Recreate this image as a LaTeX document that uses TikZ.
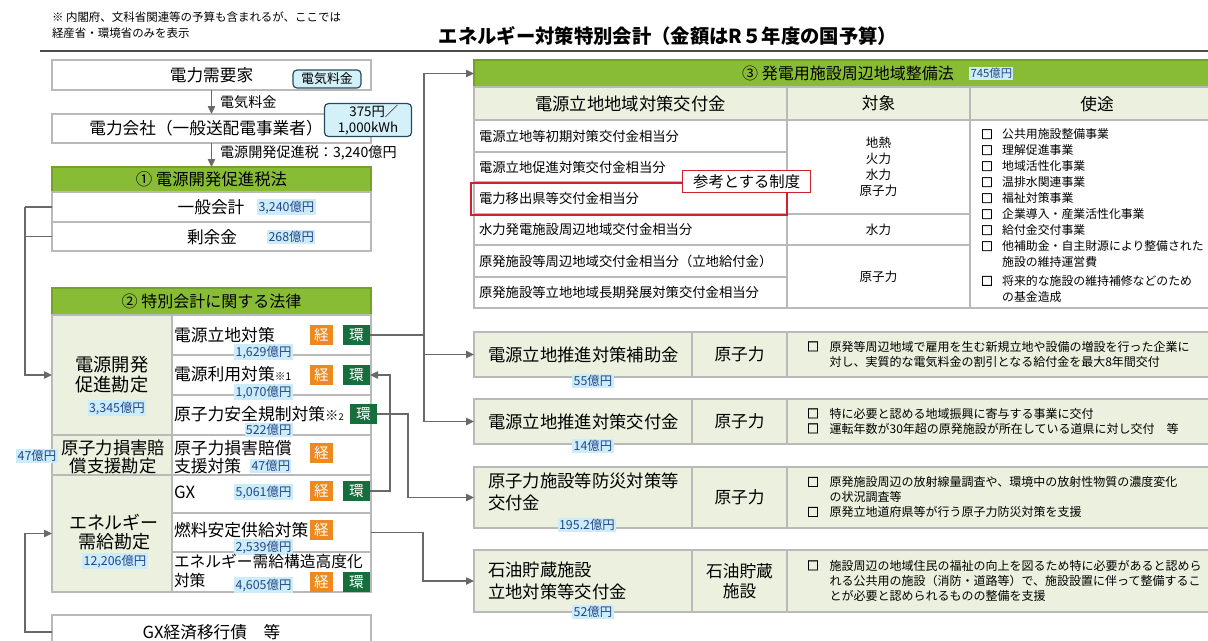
\documentclass[tikz,border=0pt]{standalone}
\usepackage{fontspec}
\setmainfont{Noto Sans CJK JP}
\newfontfamily\bulfont{Noto Sans CJK JP}[FakeBold=3]
\usetikzlibrary{arrows.meta}
\definecolor{hdrc}{RGB}{136,188,52}
\definecolor{lgreen}{RGB}{235,241,222}
\definecolor{keic}{RGB}{237,137,30}
\definecolor{kanc}{RGB}{22,110,60}
\definecolor{amtbg}{RGB}{204,236,250}
\definecolor{amtfg}{RGB}{35,70,135}
\definecolor{bordc}{RGB}{185,185,185}
\definecolor{connc}{RGB}{105,105,105}
\definecolor{refred}{RGB}{205,35,45}
\definecolor{pillbg}{RGB}{212,241,249}
\definecolor{pillbd}{RGB}{35,75,95}
\newcommand\fs[2]{\fontsize{#1}{#2}\selectfont}
\newcommand\bul{{\bulfont □}}
\begin{document}
\begin{tikzpicture}[x=0.75pt,y=-0.75pt,
 cell/.style={draw=bordc, line width=0.8pt, inner sep=0pt, outer sep=0pt, anchor=north west},
 sz/.style 2 args={minimum width=#1*0.75pt, minimum height=#2*0.75pt},
 hdr/.style={cell, fill=hdrc, draw=hdrc!85!black},
 t/.style={inner sep=0pt, outer sep=0pt},
 amt/.style={fill=amtbg, text=amtfg, inner sep=1pt, font=\fs{9.3}{10}},
 tagbox/.style={inner sep=0pt, outer sep=0pt, anchor=north west, text=white, font=\fs{11}{12}, minimum height=20*0.75pt},
 kei/.style={tagbox, fill=keic, minimum width=23*0.75pt},
 kan/.style={tagbox, fill=kanc, minimum width=27*0.75pt},
 pill/.style={draw=pillbd, fill=pillbg, rounded corners=3pt, line width=0.9pt, inner sep=0pt},
 conn/.style={draw=connc, line width=1pt},
 arr/.style={conn, -{Triangle[length=6pt,width=5.5pt]}},
 rowtxt/.style={t, anchor=west, font=\fs{10}{12}},
 lefttxt/.style={t, anchor=west, font=\fs{12.6}{14}},
 bigtxt/.style={t, anchor=west, align=left, font=\fs{13}{17}},
 usetxt/.style={t, anchor=west, font=\fs{9}{11.25}},
]
\useasboundingbox (0,0) rectangle (1208,640);

% ---------- top ----------
\node[t, anchor=west, align=left, font=\fs{8.6}{12}] (note) at (52,25) {※ 内閣府、文科省関連等の予算も含まれるが、ここでは\\経産省・環境省のみを表示};
\node[t, font=\bfseries\fs{14.5}{16}] (title) at (668,36) {エネルギー対策特別会計（金額はR５年度の国予算）};
\draw[black!70, line width=0.8pt] (40,51) -- (1208,51);

% ---------- left top ----------
\node[cell, sz={319}{30}, font=\fs{12.5}{14}] (demand) at (52,60) {電力需要家};
\node[pill, font=\fs{9.7}{11}, minimum width=68*0.75pt, minimum height=18*0.75pt] (feepill) at (327,79) {電気料金};
\node[cell, sz={319}{29}] (company) at (52,114) {};
\node[t, font=\fs{12.5}{14}] (companyt) at (206,128) {電力会社（一般送配電事業者）};
\node[pill, align=right, font=\fs{10}{12}, minimum width=87*0.75pt, minimum height=33*0.75pt] (ratepill) at (368,120) {375円／\\1,000kWh};
\node[hdr, sz={319}{25}, font=\fs{12.3}{14}] (hdr1) at (52,167) {① 電源開発促進税法};
\draw[arr] (demand) -- (company);
\node[t, anchor=west, font=\fs{10.6}{12}] (feelbl) at (220,102) {電気料金};
\draw[arr] (company) -- (hdr1);
\node[t, anchor=west, font=\fs{10.6}{12}] (taxlbl) at (220,153) {電源開発促進税：3,240億円};

\node[cell, sz={319}{30}] (ippan) at (52,192) {};
\node[t, font=\fs{12.5}{14}] (ippant) at (211,207) {一般会計};
\node[amt, anchor=west] (ippanamt) at (257,207) {3,240億円};
\node[cell, sz={319}{29}] (jyoyo) at (52,222) {};
\node[t, font=\fs{12.5}{14}] (jyoyot) at (212,237) {剰余金};
\node[amt, anchor=west] (jyoyoamt) at (267,237) {268億円};

% ---------- section 2 ----------
\node[hdr, sz={319}{27}, font=\fs{12}{14}] (hdr2) at (52,288) {② 特別会計に関する法律};
\node[cell, fill=lgreen, sz={120}{120}] (kanjo1) at (52,315) {};
\node[cell, fill=lgreen, sz={120}{40}] (kanjo2) at (52,435) {};
\node[cell, fill=lgreen, sz={120}{117}] (kanjo3) at (52,475) {};
\node[t, align=center, font=\fs{13.7}{15}] (kanjo1t) at (112,375) {電源開発\\促進勘定};
\node[amt] (kanjo1amt) at (117,408) {3,345億円};
\node[t, align=center, font=\fs{13}{13.5}] (kanjo2t) at (113,457) {原子力損害賠\\償支援勘定};
\node[amt] (kanjo2amt) at (37,456) {47億円};
\node[t, align=center, font=\fs{13.5}{14.3}] (kanjo3t) at (114,532) {エネルギー\\需給勘定};
\node[amt] (kanjo3amt) at (115,561) {12,206億円};

\node[cell, sz={199}{40}] (r1) at (172,315) {};
\node[cell, sz={199}{40}] (r2) at (172,355) {};
\node[cell, sz={199}{40}] (r3) at (172,395) {};
\node[cell, sz={199}{40}] (r4) at (172,435) {};
\node[cell, sz={199}{38}] (r5) at (172,475) {};
\node[cell, sz={199}{39}] (r6) at (172,513) {};
\node[cell, sz={199}{40}] (r7) at (172,552) {};

\node[lefttxt] (r1t) at (174,335) {電源立地対策};
\node[amt, anchor=east] (r1amt) at (293,352) {1,629億円};
\node[kei] (kei1) at (310,325) {経};
\node[kan] (kan1) at (343,325) {環};

\node[lefttxt] (r2t) at (174,374) {電源利用対策{\fs{8}{9}※1}};
\node[amt, anchor=east] (r2amt) at (293,392) {1,070億円};
\node[kei] (kei2) at (310,365) {経};
\node[kan] (kan2) at (343,365) {環};

\node[lefttxt] (r3t) at (174,414) {原子力安全規制対策{\fs{10}{11}※}{\fs{7}{8}2}};
\node[kan] (kan3) at (350,404) {環};
\node[amt, anchor=east] (r3amt) at (293,430) {522億円};

\node[lefttxt, align=left, font=\fs{12.6}{13.5}] (r4t) at (174,457) {原子力損害賠償\\支援対策};
\node[amt, anchor=west] (r4amt) at (250,466) {47億円};
\node[kei] (kei4) at (310,443) {経};

\node[lefttxt] (r5t) at (174,492) {GX};
\node[amt, anchor=east] (r5amt) at (293,492) {5,061億円};
\node[kei] (kei5) at (310,481) {経};
\node[kan] (kan5) at (343,481) {環};

\node[lefttxt] (r6t) at (174,530) {燃料安定供給対策};
\node[kei] (kei6) at (310,520) {経};
\node[amt, anchor=east] (r6amt) at (293,547) {2,539億円};

\node[lefttxt, align=left, font=\fs{11.8}{14.5}] (r7t) at (174,571) {エネルギー需給構造高度化\\対策};
\node[amt, anchor=east] (r7amt) at (293,585) {4,605億円};
\node[kei] (kei7) at (310,572) {経};
\node[kan] (kan7) at (343,572) {環};

\node[cell, sz={319}{34}, font=\fs{12.5}{14}] (gxb) at (52,615) {GX経済移行債　等};

% left connectors
\draw[conn] (ippan.west) -- ++(-27,0) coordinate (lb1);
\draw[arr] (lb1) |- (kanjo1.west);
\draw[conn] (jyoyo.west) -- ++(-27,0);
\draw[arr] (gxb.west) -- ++(-27,0) |- (kanjo3.west);

% ---------- section 3 ----------
\node[hdr, sz={740}{27}] (hdr3) at (474,60) {};
\node[t, font=\fs{12}{14}] (hdr3t) at (848,73.5) {③ 発電用施設周辺地域整備法};
\node[amt, anchor=west, font=\fs{8.5}{10}] (hdr3amt) at (969,73.5) {745億円};

\node[cell, fill=lgreen, sz={313}{33}, font=\fs{13}{14}] (th1) at (474,87) {電源立地地域対策交付金};
\node[cell, fill=lgreen, sz={183}{33}, font=\fs{12.5}{14}] (th2) at (787,87) {対象};
\node[cell, fill=lgreen, sz={244}{33}] (th3) at (970,87) {};
\node[t, font=\fs{12.5}{14}] (th3t) at (1097,104) {使途};

\node[cell, sz={313}{32}] (g1) at (474,120) {};
\node[cell, sz={313}{30}] (g2) at (474,152) {};
\node[cell, sz={313}{32}] (g3) at (474,182) {};
\node[cell, sz={313}{31}] (g4) at (474,214) {};
\node[cell, sz={313}{32}] (g5) at (474,245) {};
\node[cell, sz={313}{31}] (g6) at (474,277) {};
\node[rowtxt] (g1t) at (479,136) {電源立地等初期対策交付金相当分};
\node[rowtxt] (g2t) at (479,167) {電源立地促進対策交付金相当分};
\node[rowtxt] (g3t) at (479,198) {電力移出県等交付金相当分};
\node[rowtxt] (g4t) at (479,229.5) {水力発電施設周辺地域交付金相当分};
\node[rowtxt] (g5t) at (479,261) {原発施設等周辺地域交付金相当分（立地給付金）};
\node[rowtxt] (g6t) at (479,292.5) {原発施設等立地地域長期発展対策交付金相当分};

\node[cell, sz={183}{94}, align=center, font=\fs{9.4}{12}] (c2a) at (787,120) {地熱\\火力\\水力\\原子力};
\node[cell, sz={183}{31}, font=\fs{9.4}{12}] (c2b) at (787,214) {水力};
\node[cell, sz={183}{63}, font=\fs{9.4}{12}] (c2c) at (787,245) {原子力};
\node[cell, sz={244}{188}] (c3) at (970,120) {};
\node[t, anchor=north west, font=\fs{8.9}{12}] (uses) at (981,127.5) {\begin{tabular}{@{}l@{\hspace{7pt}}l@{}}
\bul&公共用施設整備事業\\
\bul&理解促進事業\\
\bul&地域活性化事業\\
\bul&温排水関連事業\\
\bul&福祉対策事業\\
\bul&企業導入・産業活性化事業\\
\bul&給付金交付事業\\
\bul&他補助金・自主財源により整備された\\
&施設の維持運営費\\[2pt]
\bul&将来的な施設の維持補修などのため\\
&の基金造成
\end{tabular}};

\node[draw=refred, line width=1.3pt, inner sep=0pt, anchor=north west, sz={316}{32}] (refbox) at (470,182) {};
\node[draw=refred, fill=white, line width=1pt, inner sep=0pt, anchor=north west, sz={128}{22}, font=\fs{11.5}{13}] (reflbl) at (682,170) {参考とする制度};

% lower boxes
\node[cell, fill=lgreen, sz={218}{45}] (boxA) at (474,332) {};
\node[cell, fill=lgreen, sz={95}{45}, font=\fs{12.5}{14}] (boxA2) at (692,332) {原子力};
\node[cell, fill=lgreen, sz={427}{45}] (boxA3) at (787,332) {};
\node[bigtxt] (boxAt) at (488,354.5) {電源立地推進対策補助金};
\node[amt] (boxAamt) at (593,381) {55億円};
\node[usetxt] (boxAu) at (807,355.5) {\begin{tabular}{@{}l@{\hspace{8pt}}l@{}}
\bul&原発等周辺地域で雇用を生む新規立地や設備の増設を行った企業に\\
&対し、実質的な電気料金の割引となる給付金を最大8年間交付
\end{tabular}};

\node[cell, fill=lgreen, sz={218}{45}] (boxB) at (474,399) {};
\node[cell, fill=lgreen, sz={95}{45}, font=\fs{12.5}{14}] (boxB2) at (692,399) {原子力};
\node[cell, fill=lgreen, sz={427}{45}] (boxB3) at (787,399) {};
\node[bigtxt] (boxBt) at (488,421.5) {電源立地推進対策交付金};
\node[amt] (boxBamt) at (593,446) {14億円};
\node[usetxt] (boxBu) at (807,422.5) {\begin{tabular}{@{}l@{\hspace{8pt}}l@{}}
\bul&特に必要と認める地域振興に寄与する事業に交付\\
\bul&運転年数が30年超の原発施設が所在している道県に対し交付　等
\end{tabular}};

\node[cell, fill=lgreen, sz={218}{61}] (boxC) at (474,467) {};
\node[cell, fill=lgreen, sz={95}{61}, font=\fs{12.5}{14}] (boxC2) at (692,467) {原子力};
\node[cell, fill=lgreen, sz={427}{61}] (boxC3) at (787,467) {};
\node[bigtxt] (boxCt) at (488,492) {原子力施設等防災対策等\\交付金};
\node[amt] (boxCamt) at (587,525) {195.2億円};
\node[usetxt] (boxCu) at (807,498.5) {\begin{tabular}{@{}l@{\hspace{8pt}}l@{}}
\bul&原発施設周辺の放射線量調査や、環境中の放射性物質の濃度変化\\
&の状況調査等\\
\bul&原発立地道府県等が行う原子力防災対策を支援
\end{tabular}};

\node[cell, fill=lgreen, sz={218}{62}] (boxD) at (474,550) {};
\node[cell, fill=lgreen, sz={95}{62}, align=center, font=\fs{12.5}{15}] (boxD2) at (692,550) {石油貯蔵\\施設};
\node[cell, fill=lgreen, sz={427}{62}] (boxD3) at (787,550) {};
\node[bigtxt] (boxDt) at (488,581) {石油貯蔵施設\\立地対策等交付金};
\node[amt] (boxDamt) at (593,612) {52億円};
\node[usetxt] (boxDu) at (807,582) {\begin{tabular}{@{}l@{\hspace{8pt}}l@{}}
\bul&施設周辺の地域住民の福祉の向上を図るため特に必要があると認めら\\
&れる公共用の施設（消防・道路等）で、施設設置に伴って整備するこ\\
&とが必要と認められるものの整備を支援
\end{tabular}};

% right connectors
\coordinate (bus1) at (424,0);
\coordinate (bus2) at (390,0);
\coordinate (bus3) at (408,0);
\coordinate (bus4) at (423,0);
\draw[conn] (kan1.east) -- (kan1.east -| bus1);
\draw[arr] (kan1.east -| bus1) |- (hdr3.west);
\draw[arr] (kan1.east -| bus1) |- (boxA.west);
\draw[arr] (kan1.east -| bus1) |- (boxB.west);
\draw[arr] (kan5.east) -- (kan5.east -| bus2) |- (kan2.east);
\draw[arr] (kan3.east) -- (kan3.east -| bus3) |- (boxC.west);
\draw[arr] (r6.east) -- (r6.east -| bus4) |- (boxD.west);
\end{tikzpicture}
\end{document}
